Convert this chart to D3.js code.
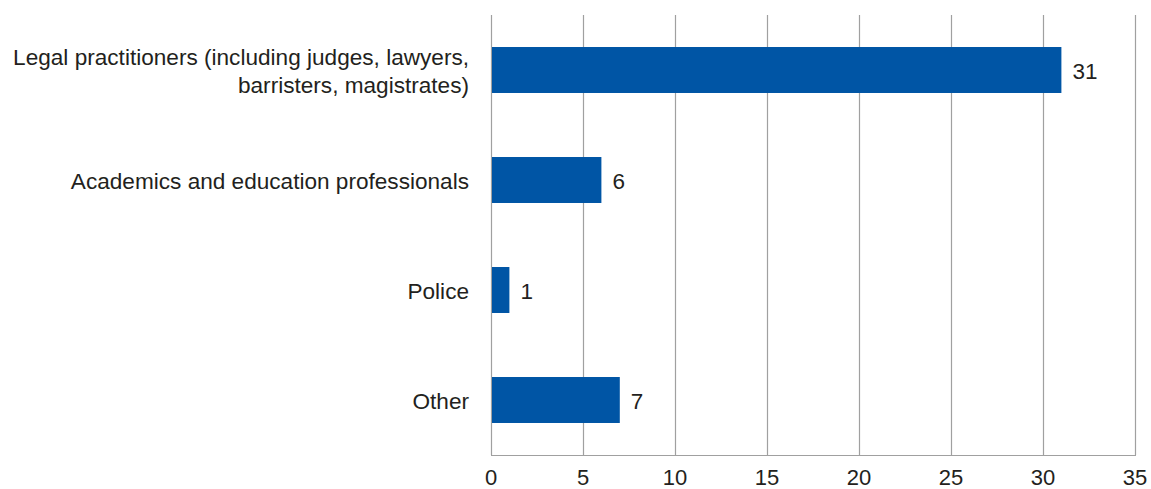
<!DOCTYPE html>
<html>
<head>
<meta charset="utf-8">
<script src="https://cdn.jsdelivr.net/npm/d3@7"></script>
<style>
  body { margin: 0; background: #fff; }
  svg text { font-family: "Liberation Sans", Arial, sans-serif; fill: #231f20; }
</style>
</head>
<body>
<div class="chart"></div>
<script>
const categories = [
  ["Legal practitioners (including judges, lawyers,", "barristers, magistrates)"],
  ["Academics and education professionals"],
  ["Police"],
  ["Other"]
];
const values = [31, 6, 1, 7];
const xTicks = [0, 5, 10, 15, 20, 25, 30, 35];

const svgWidth = 1151;
const svgHeight = 489;
const plotLeft = 491, plotRight = 1135, plotTop = 15, plotBottom = 455;

const svg = d3.select(".chart")
              .append("svg")
              .attr("width", svgWidth)
              .attr("height", svgHeight);

const xScale = d3.scaleLinear()
                 .domain([0, 35])
                 .range([plotLeft, plotRight]);

const yScale = d3.scaleBand()
                 .domain(d3.range(categories.length))
                 .range([plotTop, plotBottom])
                 .paddingInner(0.582)
                 .paddingOuter(0.291);

// vertical gridlines
svg.append("g")
   .selectAll("line")
   .data(xTicks)
   .enter()
   .append("line")
   .attr("x1", d => Math.round(xScale(d)) + 0.5)
   .attr("x2", d => Math.round(xScale(d)) + 0.5)
   .attr("y1", plotTop)
   .attr("y2", plotBottom)
   .attr("stroke", "#a0a0a0")
   .attr("stroke-width", 1.2);

// bottom axis line
svg.append("line")
   .attr("x1", plotLeft)
   .attr("x2", Math.round(xScale(35)) + 1)
   .attr("y1", plotBottom + 0.5)
   .attr("y2", plotBottom + 0.5)
   .attr("stroke", "#a0a0a0")
   .attr("stroke-width", 1.2);

// bars
svg.selectAll("rect.bar")
   .data(values)
   .enter()
   .append("rect")
   .attr("class", "bar")
   .attr("x", xScale(0) + 1)
   .attr("y", (d, i) => yScale(i))
   .attr("width", d => xScale(d) - xScale(0) - 1)
   .attr("height", yScale.bandwidth())
   .attr("fill", "#0055a5");

// value labels
svg.selectAll("text.value")
   .data(values)
   .enter()
   .append("text")
   .attr("class", "value")
   .attr("x", d => xScale(d) + 11)
   .attr("y", (d, i) => yScale(i) + yScale.bandwidth() / 2)
   .attr("dy", "0.42em")
   .attr("font-size", "22.5px")
   .text(d => d);

// category labels
categories.forEach((lines, i) => {
  const cy = yScale(i) + yScale.bandwidth() / 2;
  const t = svg.append("text")
               .attr("text-anchor", "end")
               .attr("font-size", "22.6px");
  lines.forEach((line, j) => {
    t.append("tspan")
     .attr("x", 469)
     .attr("y", cy + (j - (lines.length - 1) / 2) * 28)
     .attr("dy", "0.42em")
     .text(line);
  });
});

// x tick labels
svg.selectAll("text.tick")
   .data(xTicks)
   .enter()
   .append("text")
   .attr("class", "tick")
   .attr("x", d => xScale(d))
   .attr("y", 485)
   .attr("text-anchor", "middle")
   .attr("font-size", "22px")
   .text(d => d);
</script>
</body>
</html>
